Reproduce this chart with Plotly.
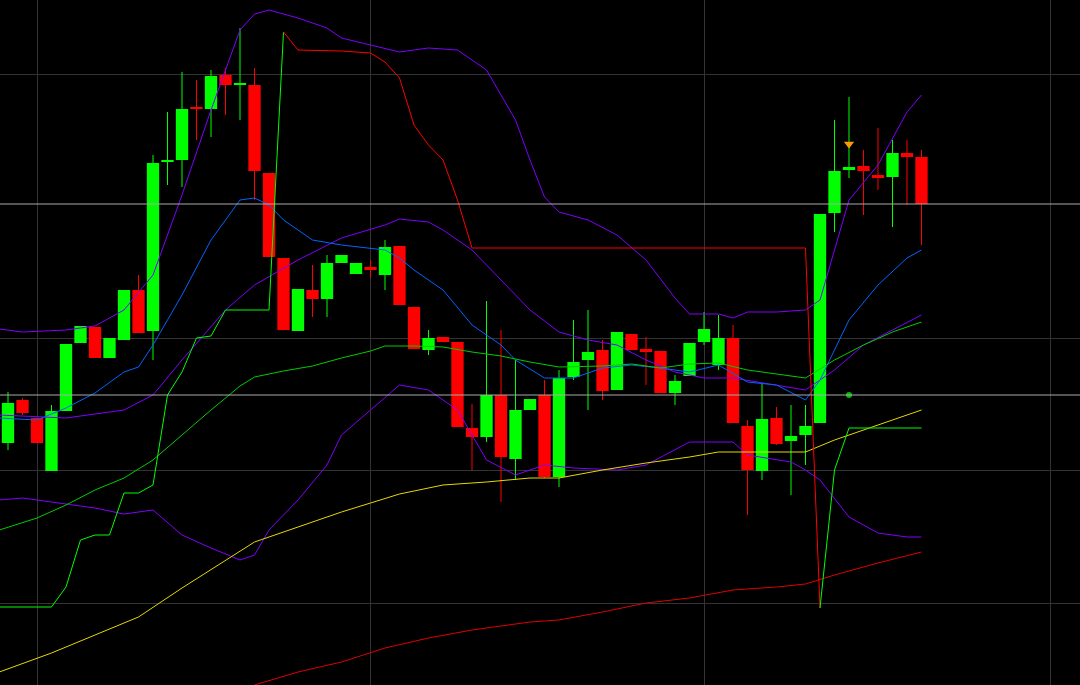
import plotly.graph_objects as go

# candle readings (screen-scale price units, larger = lower)
opens  = [443,400,418,471,411,343,327,358,340,290,331,162,160,107,109,75,85,85,173,258,331,290,299,263,274,267,275,246,307,350,337,342,428,437,395,459,410,395,477,377,360,350,390,334,349,351,393,376,342,365,338,426,471,418,441,435,423,213,170,166,175,177,153,157]
closes = [403,413,443,411,344,326,358,338,290,333,163,160,109,109,76,85,83,171,257,330,289,299,263,255,263,270,247,305,349,338,342,427,437,395,457,410,399,477,378,362,352,391,332,350,352,393,381,343,329,338,423,470,419,444,436,426,214,171,167,171,178,153,157,204]
highs  = [392,398,418,405,344,326,327,338,290,275,155,112,72,80,70,68,28,68,173,258,289,265,255,255,263,260,240,246,307,330,337,342,404,301,330,360,399,380,370,320,310,340,332,334,337,351,375,343,312,315,325,420,383,407,405,405,214,120,97,150,128,140,140,150]
lows   = [450,415,443,471,411,343,358,358,340,333,360,185,187,140,137,115,120,200,257,330,331,317,317,263,274,278,290,305,349,355,342,427,470,442,502,480,410,478,487,380,410,400,390,350,385,393,405,376,345,370,423,515,480,445,495,465,423,232,178,215,190,227,205,245]

ub_x = [-0.6,1,4,6,8,10,12,14,16,17,18,20,22,23,25,27,29,31,33,35,36,37,38,40,42,44,46,47,49,50,51,53,55,56,57,58,60,62,63]
ub_y = [329,332,330,326,310,275,195,110,30,14,10,18,28,38,45,52,48,50,70,120,160,197,212,220,235,260,298,314,314,318,312,312,310,300,250,200,165,112,95]
lb_x = [-0.6,1,4,6,8,10,12,14,16,17,18,20,22,23,25,27,29,31,33,35,37,39,42,44,47,50,51,54,55,56,58,60,62,63]
lb_y = [500,498,504,508,514,510,535,548,560,555,530,500,465,435,410,385,390,410,460,475,465,468,470,465,442,442,455,462,470,480,517,533,537,537]
pm_x = [-0.6,4,8,10,12,15,17,20,23,26,27,29,30,32,34,36,38,40,42,44,46,48,50,52,55,57,59,61,63]
pm_y = [415,418,410,395,360,310,285,260,238,225,219,222,230,250,280,310,332,340,345,360,372,378,378,383,390,370,345,330,315]
bl_x = [-0.6,2,4,6,8,9,10,12,14,16,17,18,19,21,23,25,26,27,28,30,32,34,35,37,39,41,43,45,47,49,51,53,55,56,58,60,62,63]
bl_y = [418,420,408,393,372,367,345,295,240,200,198,205,220,240,245,248,250,258,270,290,325,345,360,378,378,368,365,368,372,365,382,385,400,380,320,285,258,250]
gm_x = [-0.6,2,4,6,8,10,12,14,16,17,19,21,23,25,26,28,30,32,34,36,38,41,43,45,47,49,51,53,55,57,59,61,63]
gm_y = [530,518,505,490,478,460,435,410,386,377,371,366,358,351,346,346,347,352,356,362,367,366,364,368,364,363,370,374,378,360,345,332,322]
yl_x = [-0.6,3,6,9,12,15,17,20,23,25,27,30,33,36,38,41,44,47,49,55,57,60,63]
yl_y = [672,653,635,617,588,560,542,527,512,503,494,485,482,478,478,470,463,457,452,452,440,425,410]
rl_x = [17,20,23,26,29,32,36,38,41,44,47,50,53,55,57,60,63]
rl_y = [685,672,662,648,638,630,622,620,612,603,598,590,587,584,575,563,552]
st_x = [-0.6,3,4,5,6,7,8,9,10,11,12,13,14,15,18,19,20,23,24,25,26,27,28,29,30,31,32,55,56,57,58,63]
st_y = [607,607,587,540,535,535,493,493,485,395,372,338,336,310,310,32,50,51,52,53,62,78,125,145,160,200,248,248,608,470,428,428]
hlines = [204,395]
signal_x, sell_y, buy_y = 58, 144, 395

n = len(opens)
idx = list(range(n))
fig = go.Figure()

def wicks(cond, color):
    xs, ys = [], []
    for i in idx:
        if cond(i):
            xs += [i, i, None]; ys += [highs[i], lows[i], None]
    fig.add_trace(go.Scatter(x=xs, y=ys, mode="lines", line=dict(color=color, width=1), hoverinfo="skip"))

up = lambda i: closes[i] < opens[i]
dn = lambda i: closes[i] >= opens[i]
wicks(up, "#00ff00"); wicks(dn, "#ff0000")
for cond, color in ((up, "#00ff00"), (dn, "#ff0000")):
    sel = [i for i in idx if cond(i)]
    fig.add_trace(go.Bar(x=sel, base=[opens[i] for i in sel],
                         y=[(closes[i]-opens[i]) if closes[i] != opens[i] else 2 for i in sel],
                         width=0.85, marker=dict(color=color, line=dict(width=0))))

def line(x, y, c):
    fig.add_trace(go.Scatter(x=x, y=y, mode="lines", line=dict(color=c, width=1), hoverinfo="skip"))

line(ub_x, ub_y, "#8000ff"); line(lb_x, lb_y, "#8000ff"); line(pm_x, pm_y, "#8000ff")
line(bl_x, bl_y, "#0066ff"); line(gm_x, gm_y, "#00cc00")
line(yl_x, yl_y, "#e6d800"); line(rl_x, rl_y, "#e00000")
for k in range(len(st_x)-1):
    if st_y[k+1] == st_y[k]:
        c = "#00ff00" if (k < 18 or k >= 29) else "#ff0000"
    else:
        c = "#00ff00" if st_y[k+1] < st_y[k] else "#ff0000"
    line([st_x[k], st_x[k+1]], [st_y[k], st_y[k+1]], c)

fig.add_trace(go.Scatter(x=[signal_x], y=[sell_y], mode="markers",
                         marker=dict(symbol="triangle-down", color="#ff9900", size=9)))
fig.add_trace(go.Scatter(x=[signal_x], y=[buy_y], mode="markers",
                         marker=dict(symbol="circle", color="#00bb00", size=6)))
for h in hlines:
    fig.add_hline(y=h, line=dict(color="#aaaaaa", width=1))

fig.update_layout(width=1080, height=685, margin=dict(l=0, r=0, t=0, b=0),
                  paper_bgcolor="black", plot_bgcolor="black", showlegend=False, barmode="overlay",
                  xaxis=dict(range=[-8/14.5, 1072/14.5], tickvals=[2, 25, 48, 71.9], showticklabels=False,
                             gridcolor="#333333", zeroline=False, showline=False),
                  yaxis=dict(range=[685, 0], tickvals=[74, 338, 470, 603], showticklabels=False,
                             gridcolor="#333333", zeroline=False, showline=False))
fig.write_html("out.html", config={"displayModeBar": False},
               post_script="document.body.style.margin='0';document.body.style.background='black';document.body.style.overflow='hidden';")
